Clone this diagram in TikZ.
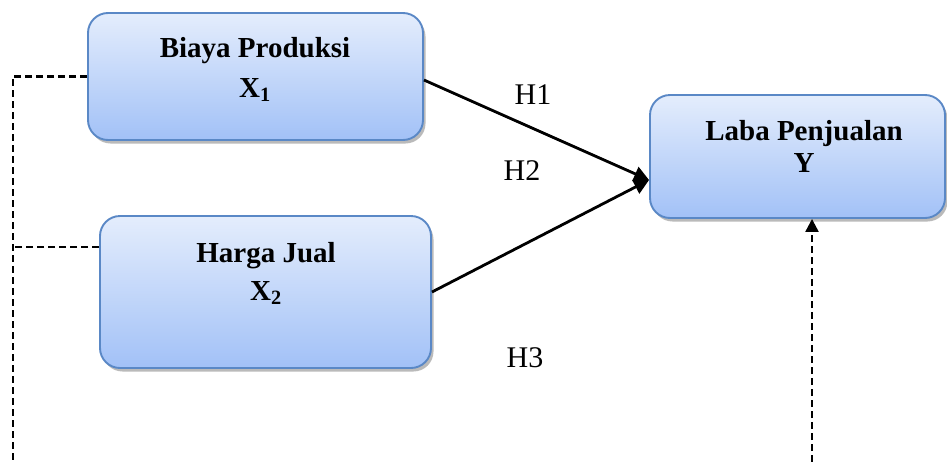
\documentclass[tikz,border=0pt]{standalone}
\usepackage{fontspec}
\setmainfont{Liberation Serif}
\usetikzlibrary{arrows.meta,shadows,calc}
\definecolor{boxborder}{HTML}{5A88C6}
\definecolor{boxtop}{HTML}{E4EDFC}
\definecolor{boxbot}{HTML}{A2C1F7}
\tikzset{
  varbox/.style={draw=boxborder, line width=1.9pt, rounded corners=20pt,
    top color=boxtop, bottom color=boxbot,
    drop shadow={shadow xshift=2.5pt, shadow yshift=-3.5pt, opacity=0.45, fill=black!60},
    inner sep=0pt},
  boxtext/.style={font=\fontsize{29}{40}\selectfont\bfseries, align=center, inner sep=0pt, anchor=base},
  hlabel/.style={font=\fontsize{30}{36}\selectfont, inner sep=0pt, anchor=base},
  link/.style={line width=2.8pt, -{Triangle[length=15pt,width=15pt]}},
  ctrl/.style={line width=2.3pt, dash pattern=on 7pt off 4pt},
}
\begin{document}
\begin{tikzpicture}[x=1pt,y=-1pt]
\useasboundingbox (0,0) rectangle (947,461);
% boxes
\node[varbox, minimum width=335pt, minimum height=127pt] (b1) at (255.5,76.5) {};
\node[varbox, minimum width=331pt, minimum height=152pt] (b2) at (265.5,292) {};
\node[varbox, minimum width=295pt, minimum height=123pt] (y) at (797.5,156.5) {};
% box texts
\node[boxtext] (t1a) at (255,57) {Biaya Produksi};
\node[boxtext] (t1b) at (255,97) {X\textsubscript{1}};
\node[boxtext] (t2a) at (266,262) {Harga Jual};
\node[boxtext] (t2b) at (266,300) {X\textsubscript{2}};
\node[boxtext] (tya) at (804,140) {Laba Penjualan};
\node[boxtext] (tyb) at (804,172) {Y};
% hypothesis labels
\node[hlabel] (h1) at (533,104) {H1};
\node[hlabel] (h2) at (522,180) {H2};
\node[hlabel] (h3) at (525,367) {H3};
% solid arrows
\coordinate (yin) at ([yshift=-23.5pt]y.west);
\coordinate (b1out) at ([yshift=-3.5pt]b1.east);
\draw[link] (b1out) -- (yin);
\draw[link] (b2.east) -- (yin);
% dashed control lines
\coordinate (lb) at (13,462);
\coordinate (rb) at (812,462);
\coordinate (b2l) at ([yshift=45pt]b2.west);
\draw[ctrl] (b1.west) -| (lb);
\draw[ctrl] (b2l) -- (lb |- b2l);
\draw[ctrl, -{Triangle[length=13pt,width=13pt]}] (rb) -- (rb |- y.south);
\end{tikzpicture}
\end{document}
